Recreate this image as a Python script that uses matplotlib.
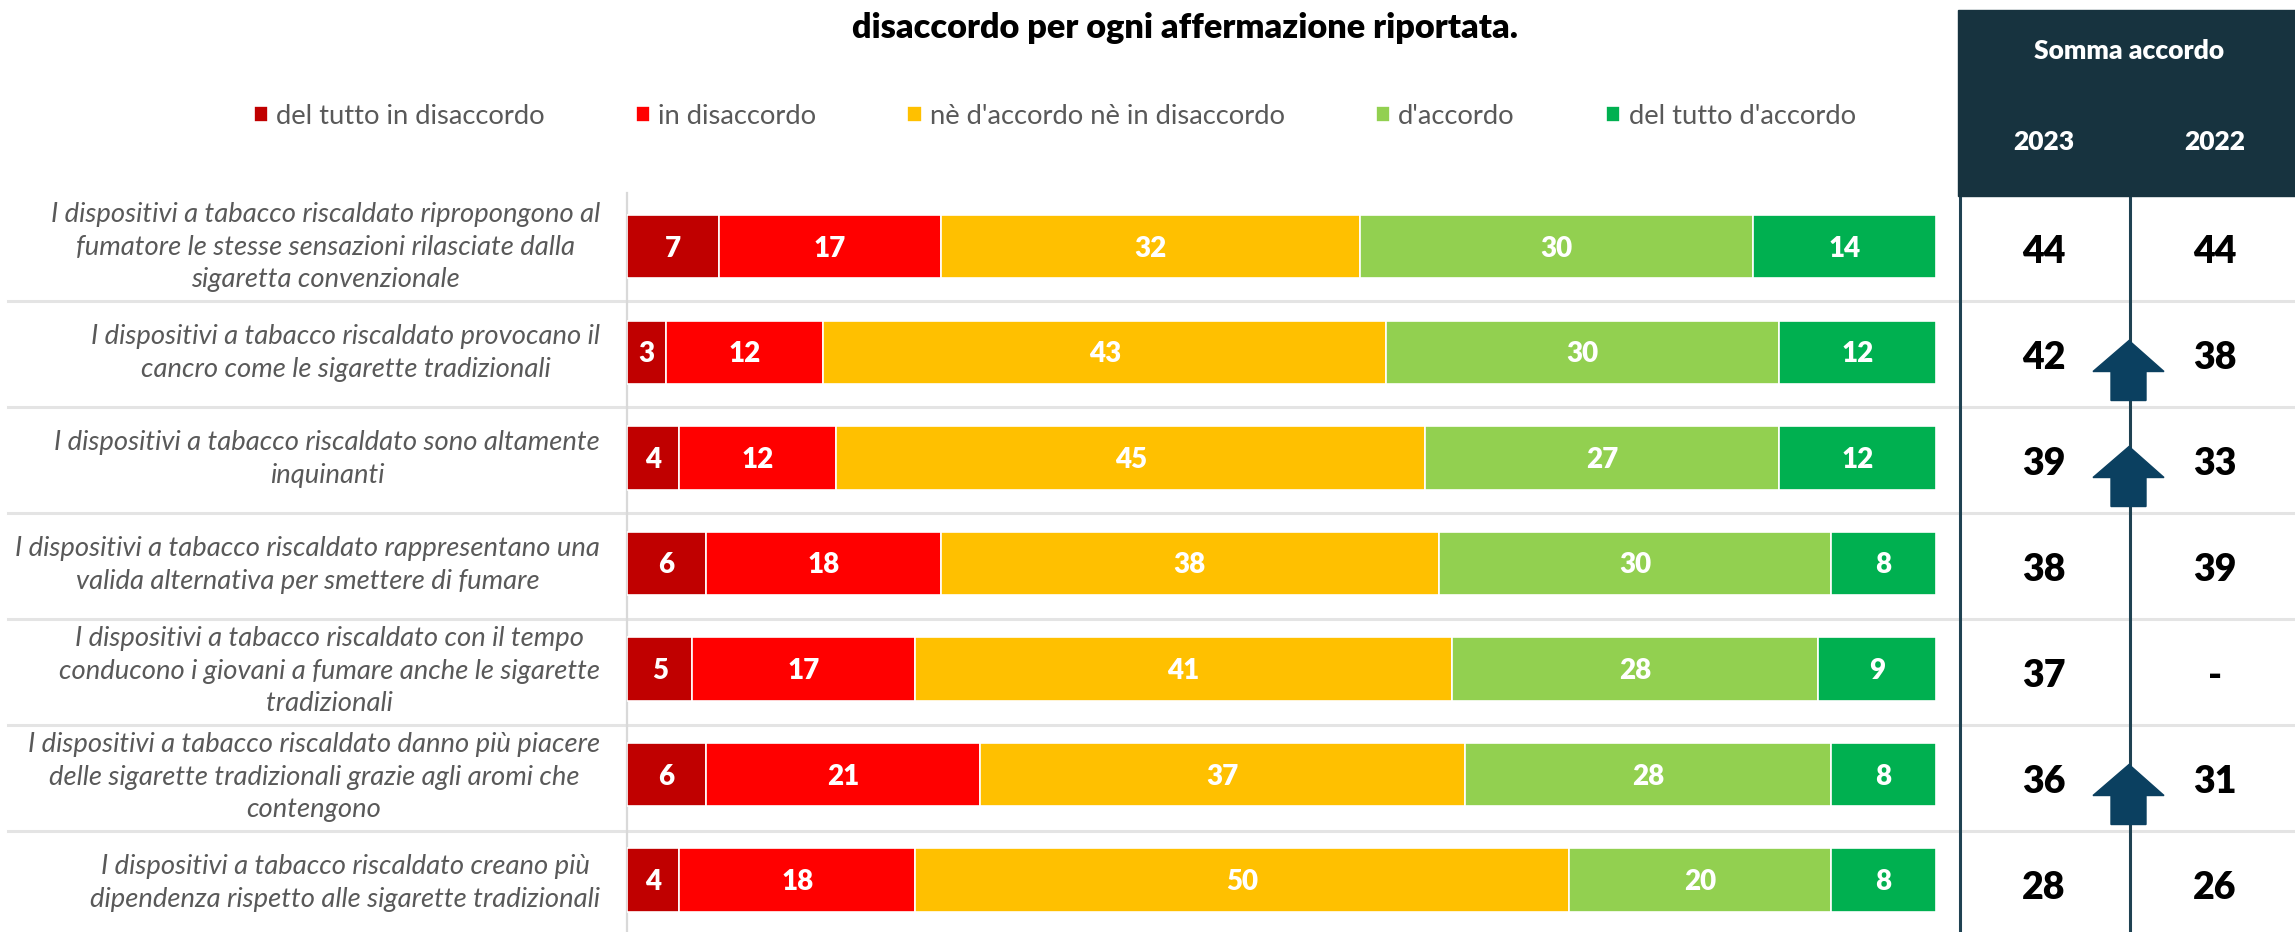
import numpy as np
import matplotlib.pyplot as plt
from matplotlib.patches import Rectangle, Polygon

plt.rcParams["font.family"] = ["Lato", "DejaVu Sans"]

W, H = 2295, 932

statements = [
    "I dispositivi a tabacco riscaldato ripropongono al\nfumatore le stesse sensazioni rilasciate dalla\nsigaretta convenzionale",
    "I dispositivi a tabacco riscaldato provocano il\ncancro come le sigarette tradizionali",
    "I dispositivi a tabacco riscaldato sono altamente\ninquinanti",
    "I dispositivi a tabacco riscaldato rappresentano una\nvalida alternativa per smettere di fumare",
    "I dispositivi a tabacco riscaldato con il tempo\nconducono i giovani a fumare anche le sigarette\ntradizionali",
    "I dispositivi a tabacco riscaldato danno più piacere\ndelle sigarette tradizionali grazie agli aromi che\ncontengono",
    "I dispositivi a tabacco riscaldato creano più\ndipendenza rispetto alle sigarette tradizionali",
]
answers = ["del tutto in disaccordo", "in disaccordo", "nè d'accordo nè in disaccordo", "d'accordo", "del tutto d'accordo"]
colors = ["#C00000", "#FF0000", "#FFC000", "#92D050", "#00B050"]

tutto_dis = [7, 3, 4, 6, 5, 6, 4]
disaccordo = [17, 12, 12, 18, 17, 21, 18]
neutro = [32, 43, 45, 38, 41, 37, 50]
accordo = [30, 30, 27, 30, 28, 28, 20]
tutto_acc = [14, 12, 12, 8, 9, 8, 8]

somma_2023 = ["44", "42", "39", "38", "37", "36", "28"]
somma_2022 = ["44", "38", "33", "39", "-", "31", "26"]
arrow_rows = [1, 2, 5]

title = "disaccordo per ogni affermazione riportata."
header = "Somma accordo"
years = ["2023", "2022"]

fig = plt.figure(figsize=(W / 100, H / 100), dpi=100)

# overlay in pixel units for the table furniture
bg = fig.add_axes([0, 0, 1, 1])
bg.set_xlim(0, W)
bg.set_ylim(H, 0)
bg.axis("off")

# bars
ax = fig.add_axes([627 / W, 1 - 936.5 / H, (1936 - 627) / W, 742.5 / H])
ax.patch.set_alpha(0)
ypos = np.arange(len(statements))
left = np.zeros(len(statements))
series = [tutto_dis, disaccordo, neutro, accordo, tutto_acc]
for name, vals, c in zip(answers, series, colors):
    vals = np.array(vals)
    bars = ax.barh(ypos, vals, left=left, height=0.6, color=c, edgecolor="white", linewidth=1.2, label=name)
    for y, v, l in zip(ypos, vals, left):
        ax.annotate(str(v), (l + v / 2, y), xytext=(0, -1.5), textcoords="offset points", ha="center", va="center",
                    color="white", fontsize=20, fontweight="heavy")
    left = left + vals
ax.set_xlim(0, 100)
ax.set_ylim(len(statements) - 0.5 + 0.035, -0.5 - 0.0)
ax.axis("off")

# row separators and the gray axis line
for i in range(1, len(statements)):
    y = 194.5 + i * 106
    bg.plot([8, W], [y, y], color="#E4E4E4", lw=2.2, zorder=1)
bg.plot([627, 627], [193, H], color="#D9D9D9", lw=1.6, zorder=1)

# table on the right
bg.add_patch(Rectangle((1958, 10), W - 1958, 186, color="#17333F", zorder=2))
for x in [1959.5, 2129.7]:
    bg.plot([x, x], [196, H], color="#1F4252", lw=2.2, zorder=1.5)
bg.text(2129, 51, header, color="white", fontsize=19, fontweight="heavy", ha="center", va="center", zorder=3)
col_x = [2044, 2215]
for x, yr in zip(col_x, years):
    bg.text(x, 142, yr, color="white", fontsize=19, fontweight="heavy", ha="center", va="center", zorder=3)

for i in ypos:
    yc = 247 + i * 106
    bg.text(600, yc, statements[i], ha="right", va="center", multialignment="center",
            style="italic", color="#595959", fontsize=19.7, linespacing=1.39)
    bg.text(col_x[0], yc + 5, somma_2023[i], ha="center", va="center", fontsize=27, fontweight="heavy", color="black", zorder=3)
    bg.text(col_x[1], yc + 5, somma_2022[i], ha="center", va="center", fontsize=27, fontweight="heavy", color="black", zorder=3)

for i in arrow_rows:
    y0 = 247 + i * 106 - 12.5
    pts = [(2129, y0), (2164, y0 + 31), (2146, y0 + 31), (2146, y0 + 60),
           (2111, y0 + 60), (2111, y0 + 31), (2093, y0 + 31)]
    bg.add_patch(Polygon(pts, closed=True, color="#0B4060", zorder=4))

fig.text(1185 / W, 1 - 28 / H, title, ha="center", va="center", fontsize=24.7, fontweight="heavy", color="black")

handles, labels = ax.get_legend_handles_labels()
leg = fig.legend(handles, labels, loc="center left", bbox_to_anchor=(253.5 / W, 1 - 116 / H), ncol=5, frameon=False,
                 fontsize=19.7, labelcolor="#595959", handlelength=0.52, handleheight=0.55, handletextpad=0.3,
                 columnspacing=3.33, borderpad=0, borderaxespad=0)

fig.savefig("out.png", dpi=100)
